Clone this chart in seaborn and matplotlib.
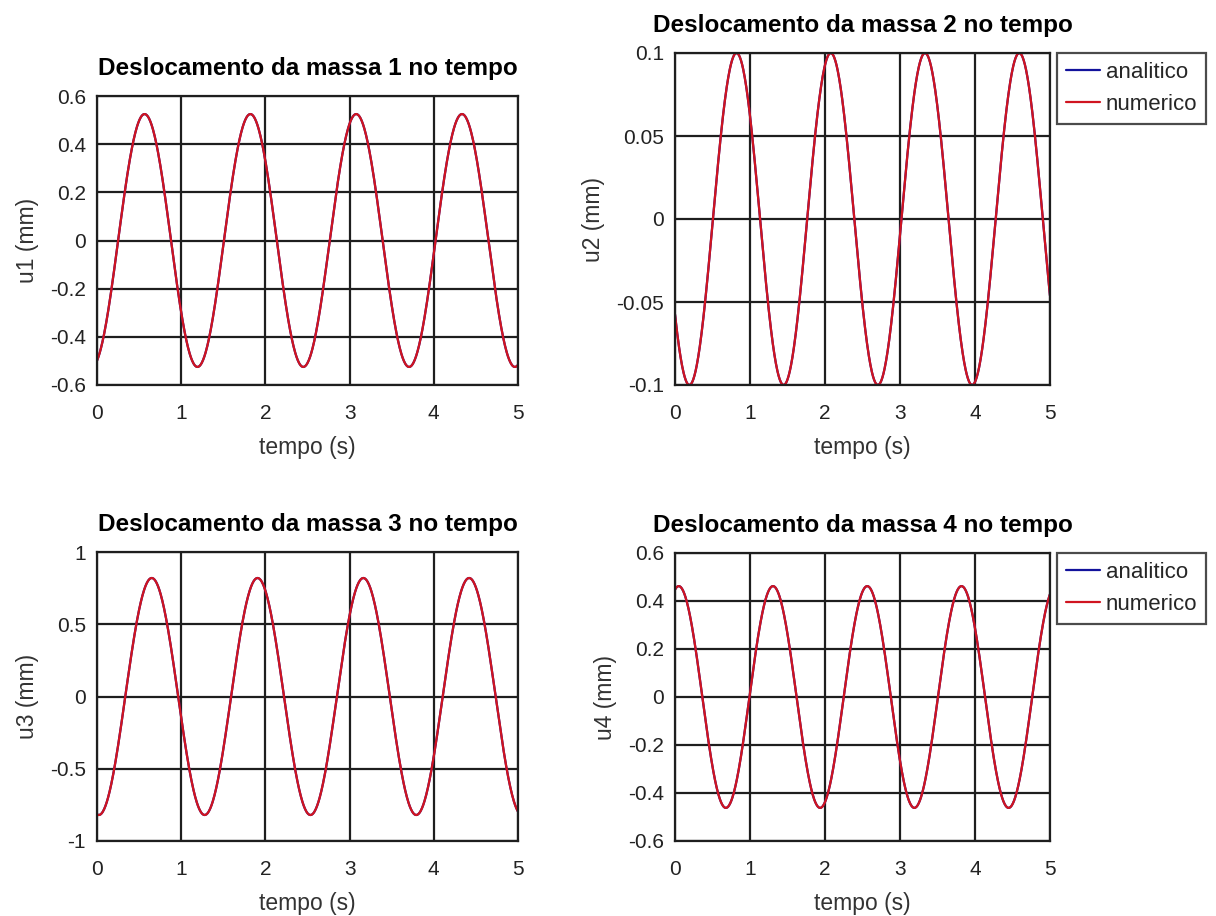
import matplotlib
matplotlib.use("Agg")
import matplotlib.pyplot as plt
import numpy as np
import pandas as pd
import seaborn as sns

# ── values ────────────────────────────────────────────────────────────────
# every mass oscillates in the same mode: u(t) = A * cos(w * (t - t_peak))
masses = [1, 2, 3, 4]
amplitudes = [0.525, 0.100, 0.820, 0.462]     # mm
peak_times = [0.565, 0.820, 0.650, 0.050]     # s, first crest
omega = 5.0                                   # rad/s (period ~1.26 s)
t_end = 5.0

y_limits = [(-0.6, 0.6), (-0.1, 0.1), (-1.0, 1.0), (-0.6, 0.6)]
y_ticks = [
    [-0.6, -0.4, -0.2, 0, 0.2, 0.4, 0.6],
    [-0.1, -0.05, 0, 0.05, 0.1],
    [-1, -0.5, 0, 0.5, 1],
    [-0.6, -0.4, -0.2, 0, 0.2, 0.4, 0.6],
]
y_ticklabels = [
    ["-0.6", "-0.4", "-0.2", "0", "0.2", "0.4", "0.6"],
    ["-0.1", "-0.05", "0", "0.05", "0.1"],
    ["-1", "-0.5", "0", "0.5", "1"],
    ["-0.6", "-0.4", "-0.2", "0", "0.2", "0.4", "0.6"],
]
x_ticks = [0, 1, 2, 3, 4, 5]
series = ["analitico", "numerico"]
colors = {"analitico": "#12129c", "numerico": "#d01420"}
show_legend = [False, True, False, True]

t = np.linspace(0.0, t_end, 1001)

sns.set_theme(style="white")
plt.rcParams["font.family"] = ["Liberation Sans", "DejaVu Sans"]

fig = plt.figure(figsize=(12.16, 9.16), dpi=100)
W, H = 1216, 916
# axes boxes in pixels: left, top, right, bottom
boxes = [
    (97, 96, 518, 385),
    (675, 53, 1050, 385),
    (97, 552, 518, 841),
    (675, 553, 1050, 841),
]

grid_col = "#1e1e1e"

for i, m in enumerate(masses):
    l, tp, r, b = boxes[i]
    ax = fig.add_axes([l / W, 1 - b / H, (r - l) / W, (b - tp) / H])
    u = amplitudes[i] * np.cos(omega * (t - peak_times[i]))
    df = pd.DataFrame({
        "tempo": np.concatenate([t, t]),
        "u": np.concatenate([u, u]),
        "serie": np.repeat(series, len(t)),
    })
    sns.lineplot(data=df, x="tempo", y="u", hue="serie", hue_order=series,
                 palette=colors, ax=ax, legend=False, errorbar=None,
                 linewidth=1.6)

    ax.set_xlim(0, t_end)
    ax.set_ylim(*y_limits[i])
    ax.set_xticks(x_ticks)
    ax.set_xticklabels([str(v) for v in x_ticks])
    ax.set_yticks(y_ticks[i])
    ax.set_yticklabels(y_ticklabels[i])
    ax.grid(True, color=grid_col, linewidth=1.6)
    ax.set_axisbelow(True)
    for s in ax.spines.values():
        s.set_color(grid_col)
        s.set_linewidth(1.6)
    ax.tick_params(axis="both", length=0, labelsize=15, colors="#222222")
    ax.tick_params(axis="x", pad=14)
    ax.tick_params(axis="y", pad=8)

    ax.set_title(f"Deslocamento da massa {m} no tempo", fontsize=17.5,
                 fontweight="bold", pad=15, color="black")
    ax.set_xlabel("tempo (s)", fontsize=16.5, color="#333333", labelpad=9)
    ax.set_ylabel(f"u{m} (mm)", fontsize=16.5, color="#333333", labelpad=8)

    if show_legend[i]:
        leg = ax.legend(handles=ax.lines[:2], labels=series,
                        loc="upper left", bbox_to_anchor=(1.018, 1.0),
                        borderaxespad=0, frameon=True, fancybox=False,
                        fontsize=16, handlelength=1.55, handletextpad=0.25,
                        labelspacing=0.5, borderpad=0.4)
        leg.get_frame().set_edgecolor(grid_col)
        leg.get_frame().set_linewidth(1.6)

fig.savefig("out.png", dpi=100, facecolor="white")
